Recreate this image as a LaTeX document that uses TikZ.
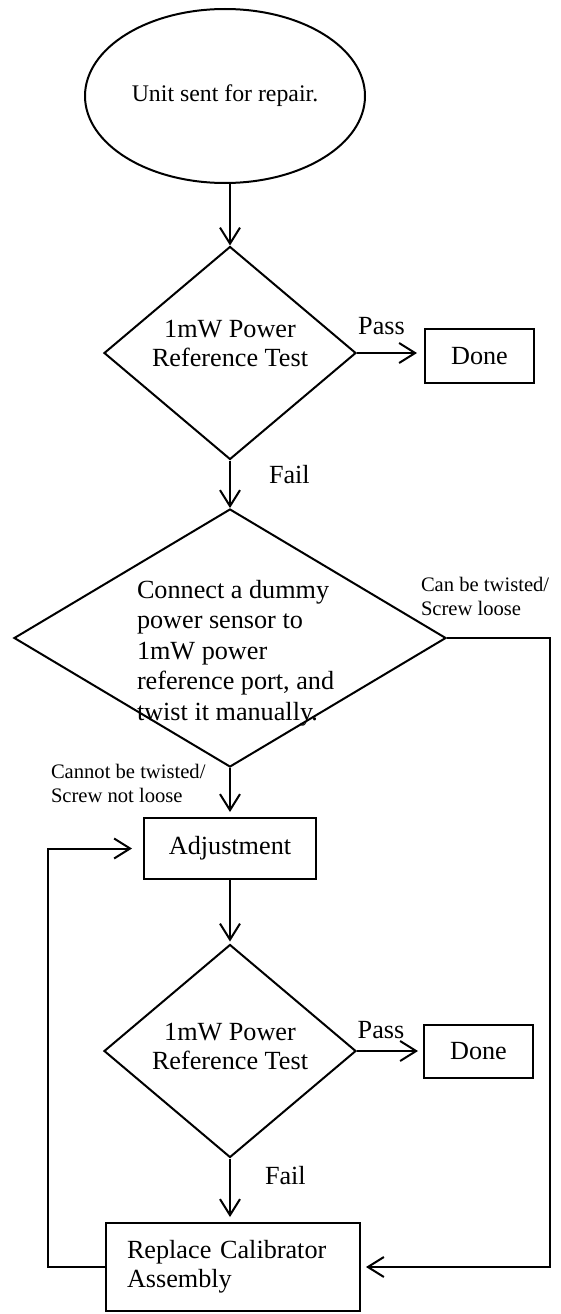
\documentclass[tikz,border=0pt]{standalone}
\usepackage{fontspec}
\setmainfont{Liberation Serif}
\usetikzlibrary{shapes.geometric, arrows.meta, positioning}

\begin{document}
\begin{tikzpicture}[x=1pt, y=-1pt, line width=2pt,
		>={Straight Barb[length=16pt, width=20pt]},
		every node/.style={font=\fontsize{26.2}{29}\selectfont},
		box/.style={draw, rectangle, inner sep=0pt},
		decision/.style={draw, diamond, inner sep=0pt},
		small/.style={font=\fontsize{20.6}{24}\selectfont, align=left, inner sep=0pt}]
		\useasboundingbox (0,0) rectangle (561,1314);

		\node(start)  [draw, ellipse, minimum width=280pt, minimum height=174pt, font=\fontsize{23.8}{28}\selectfont] at (225,96) {Unit sent for repair.};
		\node(test1)  [decision, minimum width=252pt, minimum height=213pt] at (230,353) {};
		\node(test1text) [align=center, inner sep=0pt] at (230,343) {1mW Power\\Reference Test};
		\node(done1)  [box, minimum width=109pt, minimum height=54pt] at (479.5,356) {Done};
		\node(check)  [decision, minimum width=432pt, minimum height=258pt] at (230,638) {};
		\node(checktext) [align=left, inner sep=0pt, anchor=west, font=\fontsize{26.2}{30.5}\selectfont] at (136,653) {Connect a dummy\\power sensor to\\1mW power\\reference port, and\\twist it manually.};
		\node(adjust) [box, minimum width=172pt, minimum height=61pt] at (230,848.5) {Adjustment};
		\node(test2)  [decision, minimum width=252pt, minimum height=213pt] at (230,1051) {};
		\node(test2text) [align=center, inner sep=0pt] at (230,1046) {1mW Power\\Reference Test};
		\node(done2)  [box, minimum width=109pt, minimum height=53pt] at (478.5,1051.5) {Done};
		\node(replace) [box, minimum width=254pt, minimum height=88pt, text width=212pt, align=left] at (233,1267) {Replace Calibrator\\Assembly};

		\draw[->] (test1.north |- start.south) -- (test1.north);
		\draw[->, shorten >=7pt] (test1.east) -- (test1.east -| done1.west) node[midway, above=17pt, xshift=-9pt, inner sep=0pt] (pass1) {Pass};
		\draw[->] (test1.south) -- (check.north) node[pos=0.3, right=38pt, inner sep=0pt] (fail1) {Fail};
		\draw[->, shorten >=5pt] (check.south) -- (adjust.north) node[at end, anchor=south west, xshift=-180pt, yshift=13pt, small] (nottwisted) {Cannot be twisted/\\Screw not loose};
		\draw[->, shorten >=2pt] (adjust.south) -- (test2.north);
		\draw[->, shorten >=5pt] (test2.east) -- (test2.east -| done2.west) node[midway, above=11pt, xshift=-9pt, inner sep=0pt] (pass2) {Pass};
		\draw[->, shorten >=5pt] (test2.south) -- (test2.south |- replace.north) node[pos=0.27, right=34pt, inner sep=0pt] (fail2) {Fail};
		\draw[->, shorten >=5pt] (check.east) -- ++(103,0) node[at start, anchor=south west, xshift=-27pt, yshift=21pt, small] (twisted) {Can be twisted/\\Screw loose} |- (replace.east);
		\draw[->, shorten >=11pt] (replace.west) -- ++(-57,0) |- (adjust.west);
		\end{tikzpicture}
\end{document}
